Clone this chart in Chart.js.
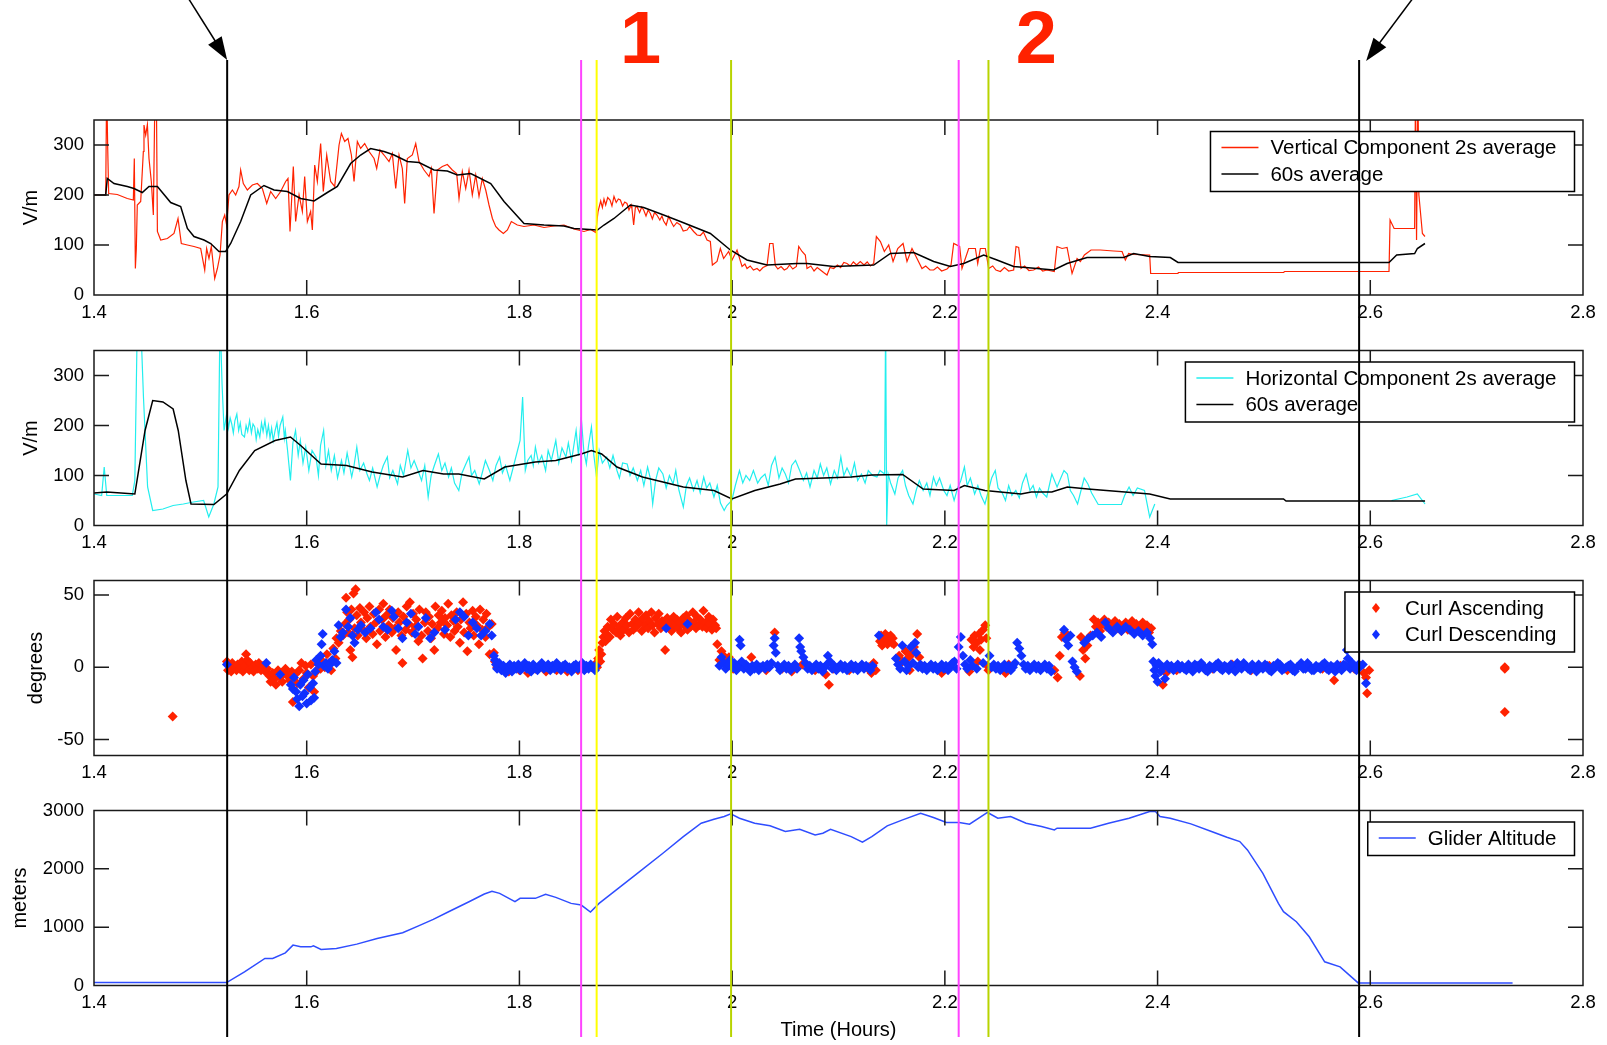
<!DOCTYPE html>
<html>
<head>
<meta charset="utf-8">
<title>Glider flight: electric field, curl and altitude</title>
<script src="https://cdn.jsdelivr.net/npm/chart.js@4.4.1/dist/chart.umd.min.js"></script>
<style>
    body { margin: 0; background: #fff; }
    #wrap { position: relative; width: 1607px; height: 1045px; }
    #wrap canvas { position: absolute; left: 0; top: 0; }
</style>
</head>
<body>
<div id="wrap">
    <canvas id="vert" width="1607" height="1045"></canvas>
    <canvas id="horiz" width="1607" height="1045"></canvas>
    <canvas id="curl" width="1607" height="1045"></canvas>
    <canvas id="alt" width="1607" height="1045"></canvas>
</div>
<script>
// ---- axis ticks ----
const xTicks = [1.4, 1.6, 1.8, 2.0, 2.2, 2.4, 2.6, 2.8];
const fieldTicks = [0, 100, 200, 300];
const curlTicks = [-50, 0, 50];
const altTicks = [0, 1000, 2000, 3000];

// ---- event markers (hours) ----
const markerTimes = [1.5252, 1.858, 1.8726, 1.999, 2.213, 2.241, 2.5895];
const eventLabels = ["1", "2"];
const eventLabelTimes = [1.914, 2.286];

// ---- vertical component (time in hours, V/m) ----
const vert2s = [
    [1.400,200],[1.4094,200],[1.411,200],[1.4119,420],[1.4129,293],[1.4138,203],[1.4219,201],[1.4313,193],
    [1.437,190],[1.4379,273],[1.4389,53],[1.4398,93],[1.4407,180],[1.4439,187],[1.4464,287],[1.447,340],
    [1.4486,320],[1.4502,341],[1.4517,273],[1.4539,227],[1.4558,160],[1.4574,420],[1.4586,420],[1.4596,127],
    [1.4627,110],[1.469,113],[1.4752,123],[1.479,153],[1.4821,103],[1.4878,100],[1.494,97],[1.5003,93],
    [1.5041,50],[1.5059,93],[1.5081,73],[1.5103,97],[1.5135,33],[1.516,53],[1.5185,80],[1.5207,147],
    [1.5229,160],[1.5247,140],[1.5269,200],[1.5301,210],[1.5332,200],[1.5363,217],[1.5379,250],[1.5404,223],
    [1.5442,210],[1.5489,220],[1.5536,223],[1.5583,213],[1.5624,183],[1.5661,207],[1.5708,193],[1.5755,207],
    [1.5802,227],[1.5824,233],[1.5843,127],[1.5874,257],[1.5896,147],[1.5928,200],[1.5959,167],[1.5981,237],
    [1.6006,147],[1.6037,167],[1.6053,130],[1.6075,260],[1.610,227],[1.6131,303],[1.6156,207],[1.6188,280],
    [1.6225,227],[1.6263,217],[1.6304,300],[1.6326,323],[1.6357,307],[1.6388,313],[1.642,280],[1.6445,227],
    [1.6476,307],[1.6507,293],[1.6545,303],[1.6586,287],[1.6633,273],[1.6658,253],[1.6689,290],[1.6727,280],
    [1.6774,267],[1.6805,283],[1.6837,213],[1.6868,280],[1.6899,253],[1.6921,183],[1.6946,273],[1.6993,280],
    [1.7025,303],[1.7056,267],[1.7103,250],[1.715,237],[1.7172,253],[1.7197,163],[1.7228,250],[1.7275,257],
    [1.7322,261],[1.7369,250],[1.741,243],[1.7432,193],[1.7463,247],[1.7495,213],[1.7526,250],[1.7557,200],
    [1.7589,240],[1.762,197],[1.7651,233],[1.7683,210],[1.7714,180],[1.7746,153],[1.7777,137],[1.7808,130],
    [1.7849,123],[1.7887,130],[1.7924,147],[1.798,140],[1.8043,137],[1.8137,140],[1.8231,135],[1.8325,138],
    [1.8419,140],[1.8513,132],[1.8607,127],[1.867,131],[1.8717,125],[1.8739,167],[1.8764,188],[1.878,175],
    [1.8795,192],[1.8811,180],[1.883,195],[1.8852,190],[1.887,178],[1.8889,197],[1.891,185],[1.893,192],
    [1.8949,190],[1.897,178],[1.899,186],[1.9011,183],[1.903,170],[1.905,180],[1.9058,173],[1.9074,140],
    [1.909,175],[1.9105,177],[1.913,165],[1.915,176],[1.9168,170],[1.919,158],[1.921,170],[1.9231,163],
    [1.925,152],[1.927,165],[1.9293,160],[1.932,150],[1.934,158],[1.9356,148],[1.938,140],[1.9403,157],
    [1.943,145],[1.945,137],[1.948,145],[1.9513,140],[1.954,128],[1.9576,130],[1.960,137],[1.9638,127],
    [1.967,120],[1.9701,119],[1.973,126],[1.9764,110],[1.9795,107],[1.9814,60],[1.9858,67],[1.9889,93],
    [1.992,73],[1.9967,87],[1.9999,70],[2.0046,90],[2.0093,57],[2.012,62],[2.014,53],[2.017,58],
    [2.020,50],[2.0234,53],[2.026,48],[2.029,55],[2.0328,59],[2.0353,103],[2.0384,103],[2.0406,59],
    [2.043,52],[2.046,57],[2.049,50],[2.0516,53],[2.054,60],[2.057,52],[2.0604,57],[2.0626,97],
    [2.0657,87],[2.0688,80],[2.0704,53],[2.074,58],[2.077,48],[2.080,55],[2.083,50],[2.086,45],
    [2.0892,40],[2.092,55],[2.0955,53],[2.099,60],[2.102,55],[2.105,65],[2.108,63],[2.111,58],
    [2.114,66],[2.117,60],[2.1205,67],[2.124,60],[2.127,66],[2.130,58],[2.1331,63],[2.1356,117],
    [2.1394,107],[2.1431,87],[2.1472,100],[2.1513,67],[2.1557,93],[2.1607,103],[2.1644,67],[2.1691,93],
    [2.1738,73],[2.1785,53],[2.182,58],[2.186,50],[2.1895,50],[2.193,56],[2.197,48],[2.202,52],
    [2.2058,60],[2.2083,103],[2.2139,97],[2.2161,53],[2.2224,93],[2.2287,93],[2.2309,63],[2.2334,93],
    [2.2381,93],[2.2412,53],[2.245,58],[2.248,50],[2.2522,47],[2.256,55],[2.260,48],[2.2647,50],
    [2.2669,97],[2.2694,95],[2.2716,53],[2.275,58],[2.279,49],[2.2835,50],[2.288,56],[2.292,48],
    [2.296,50],[2.3029,47],[2.3054,97],[2.3102,93],[2.3149,95],[2.3196,43],[2.3243,73],[2.3274,67],
    [2.3312,80],[2.3374,90],[2.3462,90],[2.3587,88],[2.3666,87],[2.3697,70],[2.3728,83],[2.3775,81],
    [2.3926,80],[2.3935,43],[2.4192,43],[2.4195,45],[2.5184,45],[2.5195,47],[2.6176,47],[2.6186,150],
    [2.6224,133],[2.6417,133],[2.6425,420],[2.6435,110],[2.6448,420],[2.6457,200],[2.649,123],[2.6514,117]
];
const vert60s = [
    [1.400,200],[1.411,200],[1.4125,233],[1.4188,223],[1.4313,217],[1.4376,213],[1.4454,205],[1.4517,217],
    [1.4596,217],[1.4721,185],[1.4815,177],[1.4878,133],[1.494,117],[1.5034,110],[1.5097,103],[1.5175,87],
    [1.5238,87],[1.5285,103],[1.5379,147],[1.5473,200],[1.5598,219],[1.5693,210],[1.5818,207],[1.5943,193],
    [1.6069,188],[1.6194,205],[1.6288,217],[1.6413,263],[1.6507,280],[1.6601,293],[1.6727,287],[1.6821,280],
    [1.6946,267],[1.7056,265],[1.7197,250],[1.7322,248],[1.7416,240],[1.7542,243],[1.773,223],[1.7855,187],
    [1.8043,143],[1.8231,140],[1.8419,138],[1.8513,133],[1.8733,130],[1.8795,140],[1.8889,153],[1.9043,180],
    [1.9168,175],[1.9356,160],[1.9513,147],[1.9795,123],[1.9983,90],[2.014,70],[2.0328,60],[2.061,63],
    [2.0704,63],[2.0955,57],[2.1331,60],[2.1488,83],[2.1707,85],[2.1895,67],[2.2052,57],[2.2177,63],
    [2.2365,80],[2.249,70],[2.2647,57],[2.2867,53],[2.3023,50],[2.3149,63],[2.3337,75],[2.3682,75],
    [2.3775,83],[2.3926,77],[2.412,75],[2.4192,65],[2.6176,65],[2.6248,80],[2.6417,83],[2.6443,93],
    [2.6514,103]
];

// ---- horizontal component (time in hours, V/m) ----
const hor2s = [
    [1.400,63],[1.4072,60],[1.4096,117],[1.412,60],[1.436,60],[1.4384,90],[1.4408,420],[1.4437,420],
    [1.4465,257],[1.4504,77],[1.4552,30],[1.4648,33],[1.4744,40],[1.484,43],[1.4935,47],[1.5031,50],
    [1.5079,17],[1.5127,43],[1.5166,77],[1.5185,420],[1.5204,283],[1.5223,190],
    [1.5247,223],[1.5265,195],[1.528,215],[1.5295,203],[1.531,185],[1.5325,210],[1.5343,223],[1.536,190],
    [1.5375,205],[1.539,182],[1.5415,177],[1.543,200],[1.5445,188],[1.5463,210],[1.548,185],[1.5495,203],
    [1.5511,197],[1.5525,172],[1.554,192],[1.5559,177],[1.5575,205],[1.559,188],[1.5607,210],[1.5625,180],
    [1.564,200],[1.5655,175],[1.567,195],[1.5685,170],[1.5703,190],[1.572,205],[1.5735,178],[1.575,200],
    [1.5775,217],[1.579,175],[1.5799,190],[1.582,150],[1.5847,90],[1.587,165],[1.5895,190],[1.592,140],
    [1.594,170],[1.5965,125],[1.5991,157],[1.602,110],[1.605,150],[1.6087,137],[1.611,100],[1.613,160],
    [1.6159,190],[1.618,120],[1.6205,150],[1.6231,110],[1.626,140],[1.629,95],[1.6327,130],[1.635,105],
    [1.638,145],[1.6423,97],[1.6445,120],[1.6471,157],[1.650,110],[1.6535,125],[1.6567,103],[1.659,90],
    [1.662,115],[1.6662,77],[1.669,100],[1.672,120],[1.6758,137],[1.678,95],[1.681,110],[1.6854,83],
    [1.688,120],[1.691,100],[1.695,150],[1.698,115],[1.701,130],[1.7046,110],[1.708,90],[1.711,120],
    [1.7142,57],[1.717,100],[1.720,120],[1.7238,143],[1.727,110],[1.730,125],[1.7334,97],[1.736,115],
    [1.739,85],[1.743,70],[1.746,105],[1.749,120],[1.7526,137],[1.755,100],[1.758,110],[1.7622,83],
    [1.765,105],[1.768,130],[1.7718,110],[1.775,90],[1.778,120],[1.7814,137],[1.784,105],[1.787,120],
    [1.791,90],[1.794,115],[1.797,140],[1.8006,170],[1.803,257],[1.8055,110],[1.8078,130],[1.811,140],
    [1.813,120],[1.815,157],[1.818,125],[1.821,140],[1.8246,110],[1.827,150],[1.830,130],[1.8342,170],
    [1.837,125],[1.840,155],[1.8437,137],[1.846,165],[1.849,130],[1.8533,190],[1.8555,140],[1.8581,217],
    [1.8605,150],[1.8629,123],[1.865,160],[1.8677,197],[1.870,140],[1.8725,97],[1.875,150],[1.878,125],
    [1.8821,137],[1.885,115],[1.888,140],[1.8917,110],[1.894,95],[1.897,125],[1.9013,123],[1.904,100],
    [1.907,115],[1.9109,90],[1.914,110],[1.917,80],[1.9205,117],[1.923,95],[1.9253,43],[1.928,90],
    [1.931,115],[1.9349,103],[1.938,75],[1.941,100],[1.9445,83],[1.947,110],[1.950,70],[1.9541,37],
    [1.957,80],[1.960,95],[1.9637,70],[1.967,90],[1.970,65],[1.9733,97],[1.976,75],[1.979,85],
    [1.9829,57],[1.986,80],[1.989,45],[1.9925,30],[1.995,40],[1.9997,50],[2.003,80],[2.0069,110],
    [2.010,85],[2.013,100],[2.0165,90],[2.020,110],[2.024,85],[2.027,95],[2.0309,103],[2.034,80],
    [2.037,120],[2.0404,137],[2.044,95],[2.047,115],[2.050,103],[2.053,85],[2.056,120],[2.0596,130],
    [2.0635,110],[2.067,90],[2.070,105],[2.0732,77],[2.077,110],[2.080,95],[2.0829,123],[2.086,100],
    [2.089,115],[2.0925,83],[2.096,110],[2.099,95],[2.1022,137],[2.105,100],[2.108,115],[2.1119,97],
    [2.115,125],[2.118,90],[2.1216,103],[2.125,85],[2.128,110],[2.132,100],[2.1361,97],[2.139,110],
    [2.1434,103],[2.1443,420],[2.1453,0],[2.1467,103],[2.149,85],[2.153,63],[2.156,95],[2.1603,110],
    [2.163,80],[2.166,60],[2.170,43],[2.173,70],[2.176,90],[2.1796,70],[2.183,85],[2.186,60],
    [2.1893,97],[2.192,80],[2.195,95],[2.199,70],[2.202,60],[2.205,80],[2.2087,50],[2.212,75],
    [2.215,90],[2.2184,117],[2.221,80],[2.224,95],[2.228,63],[2.231,80],[2.234,60],[2.2377,43],
    [2.241,70],[2.244,95],[2.2474,110],[2.250,75],[2.254,65],[2.257,50],[2.260,80],[2.263,60],
    [2.2667,70],[2.270,55],[2.273,85],[2.2764,103],[2.280,70],[2.283,80],[2.2861,57],[2.289,75],
    [2.292,65],[2.2958,57],[2.3006,103],[2.3055,77],[2.309,95],[2.312,110],[2.3152,103],[2.318,70],
    [2.321,60],[2.3248,43],[2.328,70],[2.331,95],[2.3345,83],[2.338,65],[2.3442,42],[2.366,42],
    [2.369,60],[2.3732,77],[2.377,60],[2.381,75],[2.3877,70],[2.3926,17],[2.3974,43],
    [2.50,null],
    [2.620,50],[2.6346,57],[2.6442,63],[2.6515,43]
];
const hor60s = [
    [1.400,65],[1.412,67],[1.4384,63],[1.448,190],[1.4552,250],[1.4648,247],[1.4744,233],[1.4792,190],
    [1.4864,90],[1.4912,43],[1.5127,42],[1.5247,63],[1.5367,110],[1.5511,150],[1.5703,170],[1.5847,177],
    [1.5943,160],[1.6135,123],[1.6375,120],[1.6615,107],[1.6902,97],[1.7094,110],[1.7286,103],[1.743,103],
    [1.767,93],[1.7862,117],[1.815,127],[1.8342,130],[1.8581,143],[1.8677,150],[1.8773,143],[1.8917,117],
    [1.9157,97],[1.9349,87],[1.9541,77],[1.9829,70],[1.9997,53],[2.0213,70],[2.0452,83],[2.0596,93],
    [2.1119,97],[2.1313,101],[2.1603,102],[2.1796,73],[2.2087,70],[2.2184,80],[2.2377,70],[2.2716,63],
    [2.2813,67],[2.3006,67],[2.3152,77],[2.3345,73],[2.3635,68],[2.3926,63],[2.4119,53],[2.5184,53],
    [2.5208,49],[2.6515,49]
];

// ---- curl (time in hours, degrees) ----
const curlUp = [
    [1.474,-34],
    [1.525,4],[1.526,-2],[1.527,1],[1.529,-3],[1.530,3],[1.532,0],[1.534,-2],[1.535,2],[1.537,-1],[1.539,4],
    [1.540,-3],[1.542,1],[1.543,9],[1.544,5],[1.546,-2],[1.547,3],[1.549,0],[1.550,-3],[1.552,2],[1.554,-1],
    [1.555,3],[1.557,-2],[1.559,1],[1.561,-3],
    [1.563,-1],[1.565,-6],[1.566,-10],[1.568,-4],[1.570,-8],[1.571,-12],[1.573,-2],[1.575,-7],[1.577,-10],
    [1.578,-4],[1.580,-1],[1.582,-6],[1.584,-9],[1.586,-3],[1.587,-24],[1.589,-5],[1.591,-11],[1.593,-2],
    [1.595,3],[1.597,-8],[1.599,1],[1.600,-4],[1.602,-14],[1.604,2],[1.606,-6],[1.607,-17],[1.609,-3],
    [1.611,2],[1.613,-1],[1.615,4],[1.617,0],[1.619,9],[1.621,3],[1.623,-2],[1.625,13],[1.627,6],[1.628,20],
    [1.630,17],[1.632,25],[1.634,22],
    [1.636,30],[1.637,48],[1.638,38],[1.639,24],[1.640,33],[1.641,12],[1.642,40],[1.643,7],[1.644,51],
    [1.645,27],[1.646,54],[1.647,36],[1.648,22],[1.650,41],[1.651,31],[1.653,26],[1.654,38],[1.656,20],
    [1.657,34],[1.659,42],[1.660,28],[1.662,23],[1.663,37],[1.665,31],[1.666,16],[1.668,40],[1.669,25],
    [1.671,33],[1.672,44],[1.674,21],[1.675,36],[1.677,29],[1.678,40],[1.680,24],[1.681,34],[1.683,27],
    [1.684,12],[1.686,38],[1.687,31],[1.689,22],[1.690,3],[1.691,35],[1.693,26],[1.694,42],[1.696,30],
    [1.697,45],[1.699,24],[1.700,37],[1.702,28],[1.703,33],[1.705,18],[1.706,40],[1.708,22],[1.709,6],
    [1.711,31],[1.712,38],[1.714,25],[1.715,35],[1.717,20],[1.718,30],[1.720,12],[1.721,42],[1.723,27],
    [1.724,36],[1.726,31],[1.727,39],[1.729,23],[1.730,34],[1.732,29],[1.733,44],[1.735,21],[1.736,36],
    [1.738,32],[1.739,25],[1.741,38],[1.742,28],[1.744,17],[1.745,33],[1.747,45],[1.748,24],[1.750,37],
    [1.751,11],[1.753,31],[1.754,27],[1.756,39],[1.757,22],[1.759,35],[1.760,29],[1.762,16],[1.763,40],
    [1.765,26],[1.766,33],[1.768,21],[1.769,37],[1.771,28],[1.772,9],[1.774,30],
    [1.776,10],[1.777,4],[1.779,0],
    [1.790,-3],[1.800,-2],[1.808,-4],[1.815,-1],[1.825,-3],[1.835,-2],[1.845,-3],[1.855,-2],[1.862,-1],
    [1.868,0],[1.871,2],
    [1.873,0],[1.874,6],[1.875,12],[1.876,4],[1.877,9],[1.878,17],[1.879,21],[1.880,25],[1.881,18],[1.882,23],
    [1.883,28],[1.885,21],[1.886,33],[1.888,26],[1.889,30],[1.891,24],[1.892,35],[1.894,28],[1.895,22],
    [1.897,31],[1.898,26],[1.900,34],[1.901,29],[1.903,24],[1.904,37],[1.906,30],[1.907,26],[1.909,33],
    [1.910,28],[1.912,38],[1.913,31],[1.915,25],[1.916,34],[1.918,29],[1.919,36],[1.921,27],[1.922,32],
    [1.924,38],[1.925,29],[1.927,24],[1.928,34],[1.930,30],[1.931,37],[1.933,27],[1.934,32],[1.936,29],
    [1.937,12],[1.939,34],[1.940,28],[1.942,31],[1.943,25],[1.945,35],[1.946,29],[1.948,33],[1.949,27],
    [1.951,31],[1.952,24],[1.954,34],[1.955,29],[1.957,36],[1.958,26],[1.960,32],[1.961,28],[1.963,38],
    [1.964,31],[1.966,27],[1.967,35],[1.969,29],[1.970,33],[1.972,28],[1.973,39],[1.975,31],[1.976,27],
    [1.978,35],[1.979,30],[1.981,26],[1.982,33],[1.984,29],[1.985,27],[1.986,16],
    [1.988,5],[1.990,11],[1.992,8],[1.994,3],[1.997,7],[2.001,-1],[2.010,2],[2.018,7],[2.024,0],[2.032,-2],
    [2.040,24],[2.047,-1],[2.056,-3],[2.066,2],[2.078,-2],[2.088,-5],[2.091,-12],[2.095,-1],[2.110,-2],
    [2.128,-1],[2.131,-4],[2.133,3],[2.135,-2],
    [2.139,18],[2.140,22],[2.141,15],[2.142,20],[2.143,17],[2.144,23],[2.145,19],[2.146,16],[2.147,21],
    [2.148,18],[2.149,22],[2.150,17],[2.151,20],[2.152,16],
    [2.157,8],[2.160,4],[2.163,11],[2.165,6],[2.167,-2],[2.169,9],[2.171,14],[2.174,23],[2.176,7],[2.178,1],
    [2.197,-4],
    [2.223,-3],[2.225,19],[2.227,14],[2.228,22],[2.230,17],[2.231,4],[2.232,23],[2.233,12],[2.234,19],
    [2.236,26],[2.238,29],[2.239,20],[2.240,1],[2.241,-2],
    [2.257,-4],[2.260,2],
    [2.303,-2],[2.306,-7],[2.308,8],[2.310,21],[2.313,24],[2.327,-6],[2.328,21],[2.330,12],[2.332,6],
    [2.334,15],[2.337,22],[2.340,33],[2.342,28],[2.344,31],[2.346,25],[2.348,30],[2.350,33],[2.352,28],
    [2.354,31],[2.356,26],[2.358,29],[2.360,32],[2.362,27],[2.364,30],[2.366,25],[2.368,28],[2.370,31],
    [2.372,26],[2.374,29],[2.376,32],[2.378,27],[2.380,30],[2.382,25],[2.384,29],[2.386,31],[2.388,26],
    [2.390,29],[2.392,24],[2.394,27],
    [2.405,-12],[2.408,-4],[2.418,-2],[2.440,1],[2.452,-1],[2.470,2],[2.488,-2],[2.505,1],[2.522,-2],
    [2.540,0],[2.555,-1],[2.566,-9],[2.572,1],[2.585,-1],
    [2.591,1],[2.594,-4],[2.596,-7],[2.597,-18],[2.599,-2],
    [2.7265,0],[2.7265,-1],[2.7265,-31]
];
const curlDown = [
    [1.525,2],[1.562,3],[1.575,-5],[1.585,-12],[1.587,-15],[1.588,-7],[1.590,-17],[1.591,-22],[1.593,-27],
    [1.594,-12],[1.596,-20],[1.597,-9],[1.598,-18],[1.600,-25],[1.601,-5],[1.603,-14],[1.604,-23],[1.606,-11],
    [1.607,-21],[1.608,-3],[1.609,5],[1.611,2],[1.613,8],[1.614,16],[1.615,23],[1.616,1],[1.618,3],[1.620,-1],
    [1.622,2],[1.624,5],[1.626,11],[1.628,3],[1.630,29],[1.632,21],[1.634,24],
    [1.637,40],[1.639,28],[1.641,34],[1.643,22],[1.645,17],[1.648,26],[1.651,29],[1.655,24],[1.660,27],
    [1.665,38],[1.668,33],[1.672,28],[1.676,26],[1.680,39],[1.682,35],[1.686,27],[1.690,20],[1.694,31],
    [1.698,37],[1.702,23],[1.705,28],[1.712,34],[1.716,20],[1.720,24],[1.730,26],[1.740,33],[1.744,38],
    [1.748,35],[1.752,22],[1.756,31],[1.760,27],[1.764,22],[1.768,25],[1.772,30],[1.774,22],
    [1.776,8],[1.777,5],[1.778,2],[1.779,-1],[1.781,3],[1.783,-2],[1.785,1],[1.787,-4],[1.789,0],[1.791,2],
    [1.793,-3],[1.795,1],[1.797,-1],[1.799,2],[1.801,-2],[1.803,0],[1.805,3],[1.807,-1],[1.809,1],[1.811,-3],
    [1.813,2],[1.815,0],[1.817,-2],[1.819,1],[1.821,3],[1.823,-1],[1.825,0],[1.827,2],[1.829,-2],[1.831,1],
    [1.833,-1],[1.835,3],[1.837,0],[1.839,-2],[1.841,1],[1.843,2],[1.845,-1],[1.847,0],[1.849,-3],[1.851,1],
    [1.853,2],[1.855,-1],[1.857,0],[1.859,3],[1.861,-2],[1.863,1],[1.865,-1],[1.867,2],[1.869,0],[1.871,-2],
    [1.872,1],
    [1.938,27],[1.958,30],
    [1.988,1],[1.990,7],[1.992,3],[1.994,-1],[1.996,2],[1.998,5],[2.000,0],[2.002,3],[2.004,-2],[2.006,1],
    [2.007,19],[2.008,15],[2.009,4],[2.011,-1],[2.013,2],[2.015,0],[2.017,-3],[2.019,1],[2.021,-1],[2.023,2],
    [2.025,-2],[2.027,0],[2.029,1],[2.031,-1],[2.033,2],[2.035,0],[2.037,3],[2.039,15],[2.040,20],[2.041,10],
    [2.043,1],[2.045,-2],[2.047,0],[2.049,2],[2.051,-1],[2.053,1],[2.055,-2],[2.057,0],[2.059,2],[2.061,-1],
    [2.063,20],[2.064,14],[2.065,11],[2.067,7],[2.069,3],[2.071,-1],[2.073,1],[2.075,-2],[2.077,0],[2.079,2],
    [2.081,-1],[2.083,1],[2.085,-3],[2.087,0],[2.089,2],[2.090,8],[2.092,4],[2.094,-1],[2.096,1],[2.098,-2],
    [2.100,0],[2.102,2],[2.104,-1],[2.106,1],[2.108,-2],[2.110,0],[2.112,2],[2.114,-1],[2.116,1],[2.118,-2],
    [2.120,0],[2.122,2],[2.124,-1],[2.126,1],[2.128,0],[2.130,-2],[2.132,1],[2.138,22],
    [2.154,6],[2.156,2],[2.158,-1],[2.160,15],[2.162,4],[2.164,-2],[2.166,1],[2.168,14],[2.170,3],[2.172,17],
    [2.173,10],[2.175,0],[2.177,2],[2.179,-1],[2.181,1],[2.183,-2],[2.185,0],[2.187,2],[2.189,-1],[2.191,1],
    [2.193,-2],[2.195,0],[2.197,2],[2.199,-1],[2.201,1],[2.203,-2],[2.205,0],[2.207,3],
    [2.209,4],[2.211,-1],[2.213,14],[2.215,21],[2.217,8],[2.219,2],[2.221,-1],[2.224,5],[2.226,1],[2.230,-1],
    [2.236,3],[2.242,8],[2.244,0],
    [2.246,2],[2.248,-1],[2.250,1],[2.252,-2],[2.254,0],[2.256,2],[2.258,-1],[2.260,1],[2.262,-2],[2.264,0],
    [2.266,3],[2.268,17],[2.270,13],[2.272,8],[2.274,2],[2.276,-1],[2.278,1],[2.280,-2],[2.282,0],[2.284,2],
    [2.286,-1],[2.288,1],[2.290,-2],[2.292,0],[2.294,2],[2.296,-1],[2.298,1],[2.300,-3],
    [2.312,26],[2.314,19],[2.316,15],[2.318,22],[2.320,4],[2.322,0],[2.324,-3],[2.331,17],[2.335,20],
    [2.339,22],[2.343,24],[2.347,21],[2.351,31],[2.354,27],[2.358,24],[2.362,28],[2.366,25],[2.370,28],
    [2.374,26],[2.378,23],[2.382,25],[2.386,22],[2.390,24],[2.393,20],[2.395,16],
    [2.396,4],[2.397,-2],[2.398,-6],[2.399,1],[2.400,-10],[2.401,3],[2.403,-3],[2.405,0],[2.407,-8],
    [2.409,2],[2.411,-1],[2.413,1],[2.415,-2],[2.417,0],[2.419,2],[2.421,-1],
    [2.423,1],[2.427,-2],[2.431,0],[2.435,2],[2.439,-1],[2.443,1],[2.447,-3],[2.451,0],[2.455,2],[2.459,-1],
    [2.463,1],[2.467,-2],[2.471,0],[2.475,3],[2.479,-1],[2.483,1],[2.487,-2],[2.491,0],[2.495,2],[2.499,-1],
    [2.503,1],[2.507,-3],[2.511,0],[2.515,2],[2.519,-1],[2.523,1],[2.527,-2],[2.531,0],[2.535,3],[2.539,-1],
    [2.543,1],[2.547,-2],[2.551,0],[2.555,2],[2.559,-1],[2.563,1],[2.567,-3],[2.571,0],[2.575,2],[2.578,12],
    [2.579,6],[2.581,-1],[2.584,1],[2.587,-2],[2.590,0],[2.593,2],[2.596,-11],
    [2.425,-1],[2.429,2],[2.433,-3],[2.437,1],[2.441,3],[2.445,-2],[2.449,1],[2.453,-1],[2.457,3],[2.461,-2],
    [2.465,0],[2.469,2],[2.473,-3],[2.477,1],[2.481,3],[2.485,-1],[2.489,2],[2.493,-3],[2.497,0],[2.501,2],
    [2.505,-2],[2.509,1],[2.513,3],[2.517,-2],[2.521,0],[2.525,2],[2.529,-3],[2.533,1],[2.537,-1],[2.541,3],
    [2.545,-2],[2.549,1],[2.553,-1],[2.557,3],[2.561,-2],[2.565,0],[2.569,2],[2.573,-2],[2.577,1],[2.583,3],
    [2.586,-1],[2.589,2]
];

// ---- glider altitude (time in hours, meters) ----
const altitude = [
    [1.400,50],[1.5247,50],[1.5415,234],[1.5607,463],[1.568,463],[1.5799,560],[1.5871,692],[1.5943,663],
    [1.6039,663],[1.6063,680],[1.6135,618],[1.6279,635],[1.6471,709],[1.6662,806],[1.6902,904],[1.7046,1018],
    [1.719,1133],[1.7334,1265],[1.7526,1436],[1.767,1568],[1.7742,1614],[1.7814,1580],[1.7958,1436],
    [1.8006,1494],[1.815,1494],[1.8246,1562],[1.8342,1511],[1.8486,1408],[1.8581,1379],[1.8668,1259],
    [1.8749,1408],[1.8917,1648],[1.9109,1923],[1.9349,2267],[1.9541,2553],[1.9709,2782],[1.9829,2851],
    [1.9925,2897],[1.9987,2943],[2.0069,2868],[2.0212,2782],[2.0356,2737],[2.050,2639],[2.0635,2679],
    [2.078,2582],[2.0853,2610],[2.0925,2679],[2.1119,2553],[2.1225,2456],[2.1313,2553],[2.1458,2737],
    [2.1603,2840],[2.1772,2954],[2.1893,2880],[2.2014,2794],[2.2135,2794],[2.2232,2765],[2.2401,2966],
    [2.2498,2868],[2.2619,2897],[2.2764,2782],[2.2909,2725],[2.303,2668],[2.3055,2696],[2.3369,2696],
    [2.3539,2782],[2.3732,2868],[2.3926,2983],[2.398,2983],[2.4023,2897],[2.4119,2868],[2.4313,2771],
    [2.4507,2639],[2.4652,2542],[2.4773,2467],[2.4845,2324],[2.499,1923],[2.5136,1408],[2.5184,1265],
    [2.5305,1093],[2.5426,835],[2.5571,406],[2.5716,320],[2.5886,45],[2.7338,45]
];

const FONT = "'Liberation Sans', Arial, Helvetica, sans-serif";
const tickFont = { family: FONT, size: 18.5 };
const titleFont = { family: FONT, size: 20 };
const PLOT_H = 175;

function toXY(arr) {
    return arr.map(function (p) { return { x: p[0], y: p[1] }; });
}

// box round the plot, inward ticks on all four sides, and the legend box
const frame = {
    id: "frame",
    afterDraw: function (chart) {
        const ctx = chart.ctx;
        const a = chart.chartArea;
        const xs = chart.scales.x;
        const ys = chart.scales.y;
        const eps = 1e-6;
        ctx.save();
        ctx.strokeStyle = "#1a1a1a";
        ctx.lineWidth = 1.5;
        ctx.strokeRect(a.left, a.top, a.right - a.left, a.bottom - a.top);
        ctx.beginPath();
        xs.ticks.forEach(function (t) {
            if (t.value <= xs.min + eps || t.value >= xs.max - eps) return;
            const px = xs.getPixelForValue(t.value);
            ctx.moveTo(px, a.bottom); ctx.lineTo(px, a.bottom - 15);
            ctx.moveTo(px, a.top); ctx.lineTo(px, a.top + 15);
        });
        ys.ticks.forEach(function (t) {
            if (t.value <= ys.min + eps || t.value >= ys.max - eps) return;
            const py = ys.getPixelForValue(t.value);
            ctx.moveTo(a.left, py); ctx.lineTo(a.left + 15, py);
            ctx.moveTo(a.right, py); ctx.lineTo(a.right - 15, py);
        });
        ctx.stroke();

        // legend
        const sets = chart.data.datasets;
        ctx.font = "20.5px " + FONT;
        let tw = 0;
        sets.forEach(function (d) { tw = Math.max(tw, ctx.measureText(d.label).width); });
        const w = 60 + tw + 18;
        const h = sets.length * 26.5 + 7;
        const left = a.right - 8.5 - w;
        const top = a.top + 11.5;
        ctx.fillStyle = "#fff";
        ctx.fillRect(left, top, w, h);
        ctx.strokeStyle = "#000";
        ctx.lineWidth = 1.5;
        ctx.strokeRect(left, top, w, h);
        ctx.textBaseline = "middle";
        ctx.textAlign = "left";
        sets.forEach(function (d, i) {
            const cy = top + 16 + i * 26.5;
            if (d.showLine === false) {
                ctx.fillStyle = d.backgroundColor;
                ctx.beginPath();
                ctx.moveTo(left + 31, cy - 5);
                ctx.lineTo(left + 35, cy);
                ctx.lineTo(left + 31, cy + 5);
                ctx.lineTo(left + 27, cy);
                ctx.closePath();
                ctx.fill();
            } else {
                ctx.strokeStyle = d.borderColor;
                ctx.lineWidth = 1.5;
                ctx.beginPath();
                ctx.moveTo(left + 11, cy);
                ctx.lineTo(left + 48, cy);
                ctx.stroke();
            }
            ctx.fillStyle = "#000";
            ctx.fillText(d.label, left + 60, cy + 1);
        });
        ctx.restore();
    }
};

// event lines across all panels, arrows and the numbered events
const markers = {
    id: "markers",
    afterDraw: function (chart) {
        const ctx = chart.ctx;
        const xs = chart.scales.x;
        const colors = ["#000000", "#ff44ff", "#ffff00", "#b8d400", "#ff44ff", "#b8d400", "#000000"];
        ctx.save();
        ctx.lineWidth = 2;
        markerTimes.forEach(function (t, i) {
            const px = xs.getPixelForValue(t);
            ctx.strokeStyle = colors[i];
            ctx.beginPath();
            ctx.moveTo(px, 60);
            ctx.lineTo(px, 1037);
            ctx.stroke();
        });

        function arrow(x0, y0, x1, y1) {
            const ang = Math.atan2(y1 - y0, x1 - x0);
            ctx.strokeStyle = "#000";
            ctx.fillStyle = "#000";
            ctx.lineWidth = 1.5;
            ctx.beginPath();
            ctx.moveTo(x0, y0);
            ctx.lineTo(x1 - 18 * Math.cos(ang), y1 - 18 * Math.sin(ang));
            ctx.stroke();
            ctx.beginPath();
            ctx.moveTo(x1, y1);
            ctx.lineTo(x1 - 23 * Math.cos(ang) + 8 * Math.sin(ang), y1 - 23 * Math.sin(ang) - 8 * Math.cos(ang));
            ctx.lineTo(x1 - 23 * Math.cos(ang) - 8 * Math.sin(ang), y1 - 23 * Math.sin(ang) + 8 * Math.cos(ang));
            ctx.closePath();
            ctx.fill();
        }
        const first = xs.getPixelForValue(markerTimes[0]);
        const last = xs.getPixelForValue(markerTimes[markerTimes.length - 1]);
        arrow(first - 39, -2, first, 60);
        arrow(last + 54, -2, last + 7, 61);

        ctx.fillStyle = "#ff2200";
        ctx.font = "bold 74px " + FONT;
        ctx.textAlign = "center";
        ctx.textBaseline = "alphabetic";
        eventLabels.forEach(function (s, i) {
            ctx.fillText(s, xs.getPixelForValue(eventLabelTimes[i]), 63);
        });
        ctx.restore();
    }
};

function xScale(height, title) {
    return {
        type: "linear",
        min: 1.4,
        max: 2.8,
        grid: { display: false, drawTicks: false },
        border: { display: false },
        ticks: {
            padding: 6.5,
            font: tickFont,
            color: "#000",
            autoSkip: false,
            maxRotation: 0,
            callback: function (v) { return String(Math.round(v * 10) / 10); },
        },
        afterBuildTicks: function (s) { s.ticks = xTicks.map(function (v) { return { value: v }; }); },
        afterFit: function (s) { s.height = height; },
        title: title
            ? { display: true, text: title, font: titleFont, color: "#000", padding: 0 }
            : { display: false },
    };
}

function yScale(min, max, ticks, title, titlePad) {
    return {
        min: min,
        max: max,
        grid: { display: false, drawTicks: false },
        border: { display: false },
        ticks: {
            padding: 10,
            font: tickFont,
            color: "#000",
            callback: function (v) { return String(v); },
        },
        afterBuildTicks: function (s) { s.ticks = ticks.map(function (v) { return { value: v }; }); },
        afterFit: function (s) { s.width = 94; },
        title: { display: true, text: title, font: titleFont, color: "#000", padding: { top: titlePad, bottom: 0 } },
    };
}

function baseOptions(top, xHeight, xTitle, yOpts) {
    return {
        responsive: false,
        animation: false,
        events: [],
        layout: { padding: { left: 0, right: 24, top: top, bottom: 1045 - top - PLOT_H - xHeight } },
        plugins: { legend: { display: false }, tooltip: { enabled: false } },
        scales: { x: xScale(xHeight, xTitle), y: yOpts },
    };
}

function lineSet(label, arr, color, width, order) {
    return {
        label: label,
        data: toXY(arr),
        borderColor: color,
        backgroundColor: color,
        borderWidth: width,
        pointRadius: 0,
        tension: 0,
        spanGaps: false,
        order: order,
    };
}

function dotSet(label, arr, color, order) {
    return {
        label: label,
        data: toXY(arr),
        showLine: false,
        pointStyle: "rectRot",
        pointRadius: 5,
        borderWidth: 0,
        backgroundColor: color,
        borderColor: color,
        order: order,
    };
}

new Chart(document.getElementById("vert"), {
    type: "line",
    data: {
        datasets: [
            lineSet("Vertical Component 2s average", vert2s, "#ff2200", 1.2, 1),
            lineSet("60s average", vert60s, "#000000", 1.5, 0),
        ],
    },
    options: baseOptions(120, 40, null, yScale(0, 350, fieldTicks, "V/m", 19)),
    plugins: [frame],
});

new Chart(document.getElementById("horiz"), {
    type: "line",
    data: {
        datasets: [
            lineSet("Horizontal Component 2s average", hor2s, "#22eeee", 1.2, 1),
            lineSet("60s average", hor60s, "#000000", 1.5, 0),
        ],
    },
    options: baseOptions(350.5, 40, null, yScale(0, 350, fieldTicks, "V/m", 19)),
    plugins: [frame],
});

new Chart(document.getElementById("curl"), {
    type: "scatter",
    data: {
        datasets: [
            dotSet("Curl Ascending", curlUp, "#ff2200", 1),
            dotSet("Curl Descending", curlDown, "#1030ff", 0),
        ],
    },
    options: baseOptions(580.5, 40, null, yScale(-61, 60, curlTicks, "degrees", 24)),
    plugins: [frame],
});

new Chart(document.getElementById("alt"), {
    type: "line",
    data: {
        datasets: [lineSet("Glider Altitude", altitude, "#2f4dff", 1.5, 0)],
    },
    options: baseOptions(810.5, 57, "Time (Hours)", yScale(0, 3000, altTicks, "meters", 8.5)),
    plugins: [frame, markers],
});
</script>
</body>
</html>
